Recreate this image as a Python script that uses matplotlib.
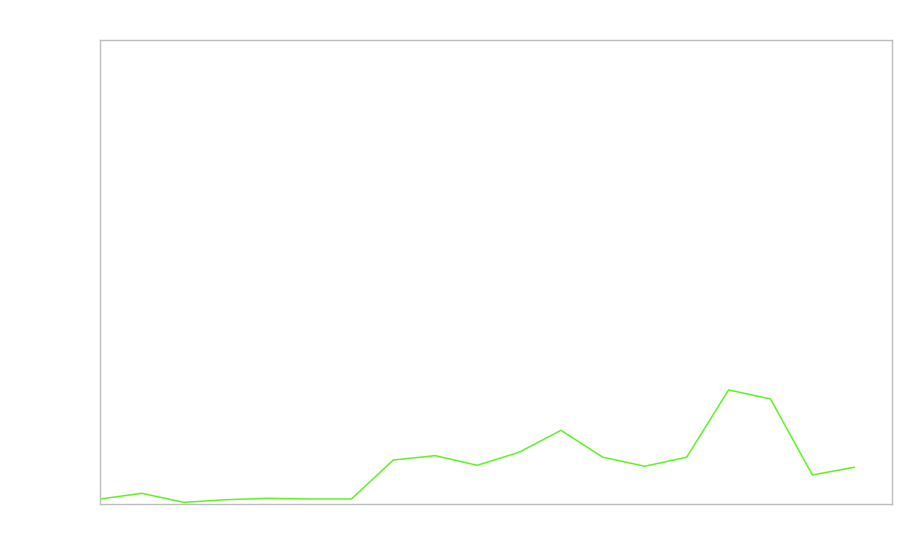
import numpy as np
import matplotlib
matplotlib.use("Agg")
from matplotlib import pyplot as plt

# valores (sin etiquetas visibles)
steps = list(range(19))
values = [5.4, 11.5, 1.8, 4.6, 6.1, 5.4, 5.4, 47.4, 52.1, 41.7, 55.7,
          79.4, 50.4, 40.7, 50.4, 122.9, 113.2, 31.3, 39.6]

fig = plt.figure(figsize=(9.0, 5.6), dpi=100)
ax = fig.add_axes([100 / 900, 1 - 504 / 560, 792 / 900, 464 / 560])

ax.plot(steps, values, color='#5cf522', linewidth=1.1)

ax.set_xlim(0, 18.9)
ax.set_ylim(0, 500)
ax.set_xticks([])
ax.set_yticks([])
for s in ax.spines.values():
    s.set_color('#bdbdbd')
    s.set_linewidth(1.0)

plt.savefig("out.png", dpi=100)
